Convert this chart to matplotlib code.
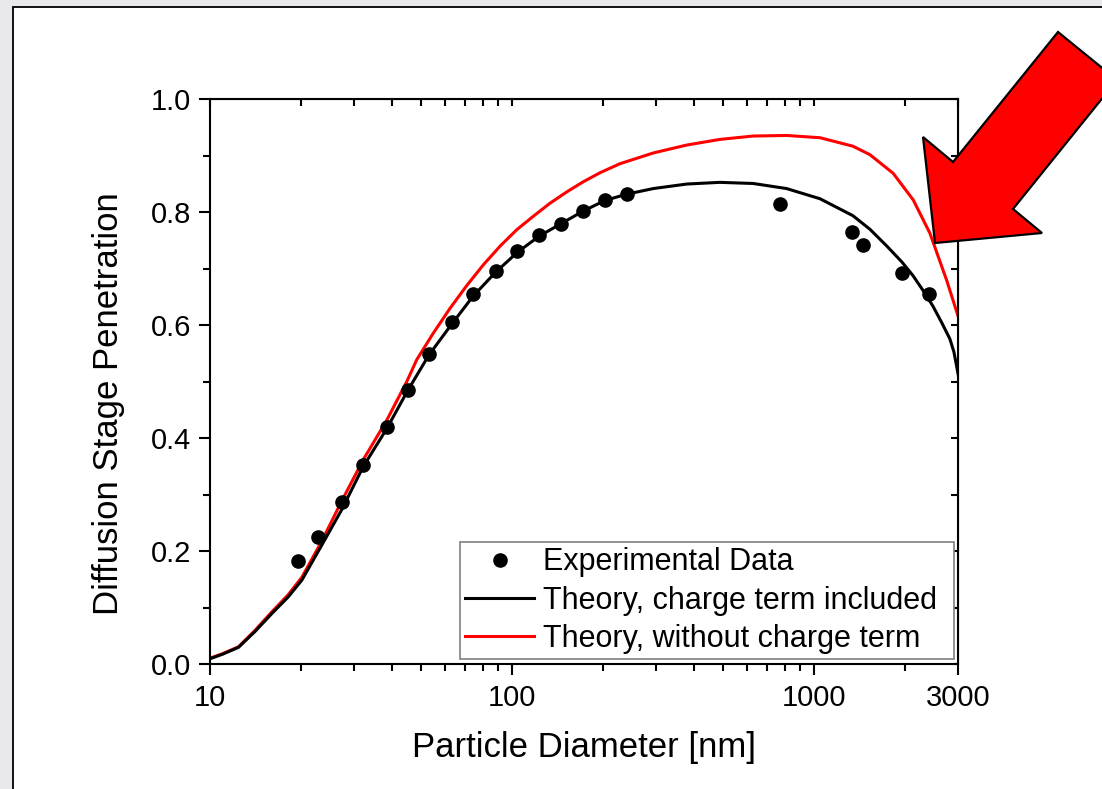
import numpy as np
import matplotlib
matplotlib.use('Agg')
import matplotlib.pyplot as plt
from matplotlib.patches import Polygon, Rectangle
from matplotlib.ticker import FixedLocator, NullFormatter, MultipleLocator

plt.rcParams['font.family'] = ['Liberation Sans', 'DejaVu Sans']

# experimental points
exp_d = [19.5, 22.8, 27.4, 32.1, 38.4, 45.0, 52.9, 63.0, 74.3, 88.1, 103.9, 122.9,
         145.3, 171.4, 203.2, 239.7, 770, 1330, 1446, 1956, 2392]
exp_p = [0.183, 0.225, 0.287, 0.352, 0.420, 0.486, 0.549, 0.605, 0.655, 0.696, 0.731, 0.759,
         0.780, 0.803, 0.822, 0.832, 0.814, 0.766, 0.743, 0.692, 0.656]

# theory with charge term (black)
blk_d = [10, 11.0, 12.4, 14.06, 16.0, 18.1, 20.1, 23.4, 27.2, 32.1, 38.4, 45.0, 52.9, 63.0,
         74.3, 88.1, 103.9, 122.9, 145.3, 171.4, 203, 239, 293, 378, 487, 628, 810, 1045,
         1343, 1529, 1741, 1952, 2123, 2291, 2472, 2648, 2813, 2901, 3000]
blk_p = [0.010, 0.018, 0.030, 0.058, 0.090, 0.119, 0.149, 0.211, 0.273, 0.350, 0.417, 0.484,
         0.547, 0.602, 0.652, 0.694, 0.729, 0.758, 0.780, 0.802, 0.821, 0.832, 0.842, 0.850,
         0.853, 0.851, 0.842, 0.824, 0.794, 0.770, 0.740, 0.712, 0.688, 0.662, 0.634, 0.604,
         0.576, 0.553, 0.512]

# theory without charge term (red)
red_d = [10, 11.0, 12.4, 14.06, 16.0, 18.1, 20.1, 23.4, 27.3, 32.1, 38.4, 44.7, 48.25, 54.75,
         62.2, 70.6, 80.2, 91.1, 103.4, 117.4, 133.3, 151.4, 171.8, 195.2, 227.3, 293, 378,
         487, 628, 810, 1045, 1343, 1529, 1826, 2127, 2416, 2744, 3000]
red_p = [0.011, 0.019, 0.031, 0.060, 0.093, 0.123, 0.154, 0.218, 0.290, 0.362, 0.432, 0.500,
         0.539, 0.586, 0.630, 0.670, 0.707, 0.740, 0.769, 0.793, 0.816, 0.836, 0.854, 0.870,
         0.886, 0.905, 0.919, 0.929, 0.935, 0.936, 0.932, 0.917, 0.902, 0.869, 0.822, 0.763,
         0.680, 0.615]

W, H = 1102, 789
fig = plt.figure(figsize=(W / 100, H / 100), dpi=100)
fig.patch.set_facecolor('#e9e9eb')

# white slide panel (behind everything)
panel = Rectangle((13 / W, -0.05), 1.1, 1 - 7 / H + 0.05, transform=fig.transFigure,
                  facecolor='white', edgecolor='black', linewidth=1.3, zorder=-10)
fig.patches.append(panel)

ax = fig.add_axes([210.3 / W, 1 - 664.3 / H, 748 / W, 565 / H])
ax.set_facecolor('none')

ax.plot(red_d, red_p, color='#ff0000', lw=2.2, label='Theory, without charge term', zorder=2)
ax.plot(blk_d, blk_p, color='black', lw=2.2, label='Theory, charge term included', zorder=3)
ax.plot(exp_d, exp_p, 'o', color='black', ms=9.5, label='Experimental Data', zorder=4)

ax.set_xscale('log')
ax.set_xlim(10, 3000)
ax.set_ylim(0, 1.0)

ax.xaxis.set_major_locator(FixedLocator([10, 100, 1000, 3000]))
ax.xaxis.set_major_formatter(matplotlib.ticker.FixedFormatter(['10', '100', '1000', '3000']))
minors = [m * 10 ** k for k in (1, 2) for m in range(2, 10)] + [2000]
ax.xaxis.set_minor_locator(FixedLocator(minors))
ax.xaxis.set_minor_formatter(NullFormatter())
ax.yaxis.set_major_locator(MultipleLocator(0.2))
ax.yaxis.set_minor_locator(MultipleLocator(0.1))
ax.yaxis.set_major_formatter(matplotlib.ticker.FormatStrFormatter('%.1f'))

for s in ax.spines.values():
    s.set_linewidth(1.5)
ax.tick_params(which='major', direction='out', length=8, width=1.5, labelsize=21, pad=6)
ax.tick_params(which='minor', direction='out', length=5, width=1.5)

# mirrored axes with inward ticks
top = ax.secondary_xaxis('top')
top.xaxis.set_major_locator(FixedLocator([10, 100, 1000, 3000]))
top.xaxis.set_minor_locator(FixedLocator(minors))
top.tick_params(which='both', direction='in', length=5, width=1.5, labeltop=False)
top.xaxis.set_major_formatter(NullFormatter())
top.xaxis.set_minor_formatter(NullFormatter())
right = ax.secondary_yaxis('right')
right.yaxis.set_major_locator(MultipleLocator(0.2))
right.yaxis.set_minor_locator(MultipleLocator(0.1))
right.tick_params(which='both', direction='in', length=5, width=1.5, labelright=False)
right.yaxis.set_major_formatter(NullFormatter())

ax.set_xlabel('Particle Diameter [nm]', fontsize=25, labelpad=14)
ax.set_ylabel('Diffusion Stage Penetration', fontsize=25)
ax.yaxis.set_label_coords(-0.114, 0.461)

h, l = ax.get_legend_handles_labels()
leg = ax.legend(h[::-1], l[::-1], loc='lower left',
                bbox_to_anchor=(0.3338, 0.0089, 0.661, 0.207), mode='expand',
                fontsize=22, frameon=True, fancybox=False, framealpha=1,
                borderaxespad=0, borderpad=0.18, handlelength=2.25, handletextpad=0.3,
                labelspacing=0.27, numpoints=1)
leg.get_frame().set_edgecolor('#808080')
leg.get_frame().set_linewidth(1.2)

# red arrow pointing at the curves
arrow_px = [(935, 243), (923, 137), (953, 162), (1058, 32), (1117, 80), (1013, 209), (1042, 233)]
arrow = Polygon([(x / W, 1 - y / H) for x, y in arrow_px], closed=True,
                transform=fig.transFigure, facecolor='#ff0000', edgecolor='black',
                linewidth=1.6, zorder=10)
fig.patches.append(arrow)

fig.savefig('out.png', dpi=100, facecolor=fig.get_facecolor())
